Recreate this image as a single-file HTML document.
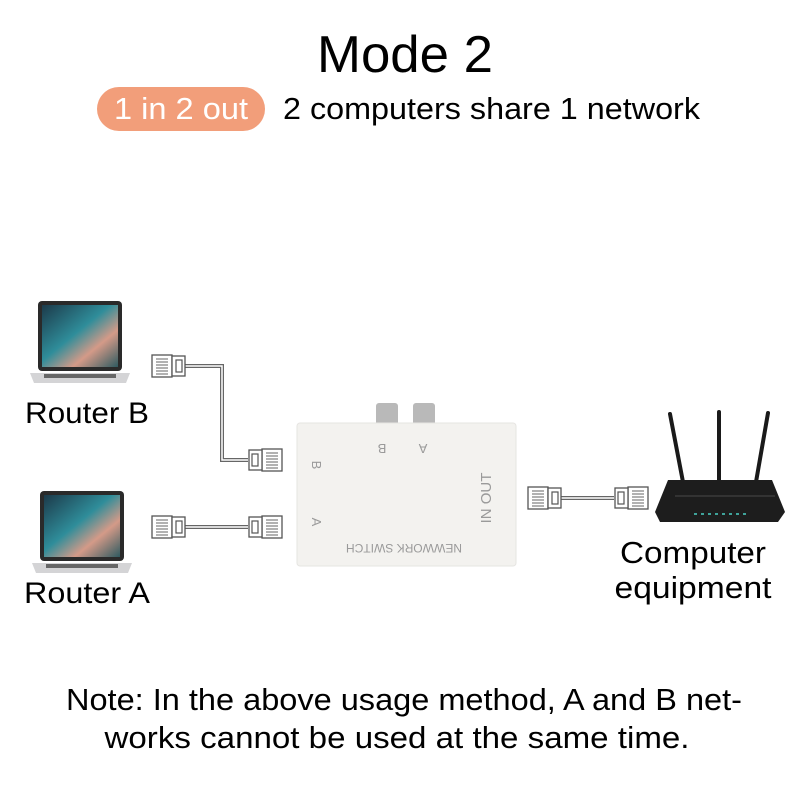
<!DOCTYPE html>
<html><head><meta charset="utf-8"><style>body{margin:0;background:#fff}svg{display:block}</style></head>
<body>
<svg width="800" height="800" viewBox="0 0 800 800" xmlns="http://www.w3.org/2000/svg" font-family="Liberation Sans, sans-serif">
<defs>
<linearGradient id="scr" x1="0" y1="0" x2="1" y2="1">
<stop offset="0" stop-color="#1c3a4a"/><stop offset="0.45" stop-color="#2f8d9a"/><stop offset="0.7" stop-color="#d49a88"/><stop offset="1" stop-color="#2f5a60"/></linearGradient>
<g id="plugL">
<rect x="0" y="0" width="20" height="22" fill="#fff" stroke="#555" stroke-width="1.3"/>
<g stroke="#666" stroke-width="1"><line x1="4" y1="4" x2="16" y2="4"/><line x1="4" y1="7" x2="16" y2="7"/><line x1="4" y1="10" x2="16" y2="10"/><line x1="4" y1="13" x2="16" y2="13"/><line x1="4" y1="16" x2="16" y2="16"/><line x1="4" y1="19" x2="16" y2="19"/></g>
<rect x="20" y="1" width="13" height="20" fill="#fff" stroke="#555" stroke-width="1.3"/>
<rect x="24" y="5" width="6" height="12" fill="#fff" stroke="#555" stroke-width="1.2"/>
</g>
<g id="laptop">
<rect x="8" y="0" width="84" height="70" rx="4" fill="#2a2a2a"/>
<rect x="12" y="4" width="76" height="62" fill="url(#scr)"/>
<path d="M0 72 L100 72 L96 82 L4 82 Z" fill="#d4d4d6"/>
<rect x="14" y="73" width="72" height="4" fill="#666"/>
</g>
</defs>

<text x="405" y="72" font-size="52" text-anchor="middle" textLength="176" lengthAdjust="spacingAndGlyphs" fill="#000">Mode 2</text>
<rect x="97" y="87" width="168" height="44" rx="22" fill="#f29e7a"/>
<text x="181" y="119" font-size="31" text-anchor="middle" fill="#fff" textLength="134" lengthAdjust="spacingAndGlyphs">1 in 2 out</text>
<text x="283" y="119" font-size="31" fill="#000" textLength="417" lengthAdjust="spacingAndGlyphs">2 computers share 1 network</text>

<use href="#laptop" x="30" y="301"/>
<use href="#laptop" x="32" y="491"/>
<text x="25" y="423" font-size="30" textLength="124" lengthAdjust="spacingAndGlyphs">Router B</text>
<text x="24" y="603" font-size="30" textLength="126" lengthAdjust="spacingAndGlyphs">Router A</text>

<g fill="none" stroke="#666" stroke-width="4"><path d="M185 366 H222 V460 H248"/><path d="M185 527 H248"/><path d="M560 498 H614"/></g>
<g fill="none" stroke="#fff" stroke-width="1.5"><path d="M185 366 H222 V460 H248"/><path d="M185 527 H248"/><path d="M560 498 H614"/></g>

<use href="#plugL" x="152" y="355"/>
<use href="#plugL" x="152" y="516"/>
<use href="#plugL" transform="translate(282,449) scale(-1,1)"/>
<use href="#plugL" transform="translate(282,516) scale(-1,1)"/>
<use href="#plugL" x="528" y="487"/>
<use href="#plugL" transform="translate(648,487) scale(-1,1)"/>

<rect x="376" y="403" width="22" height="24" rx="3" fill="#b9b9b9"/>
<rect x="413" y="403" width="22" height="24" rx="3" fill="#b9b9b9"/>
<rect x="297" y="423" width="219" height="143" rx="3" fill="#f3f2ef" stroke="#e6e5e2"/>
<g fill="#9a9a9a" font-size="13">
<text transform="translate(382,444) rotate(180)" text-anchor="middle">B</text>
<text transform="translate(423,444) rotate(180)" text-anchor="middle">A</text>
<text transform="translate(312,465) rotate(90)" text-anchor="middle">B</text>
<text transform="translate(312,522) rotate(90)" text-anchor="middle">A</text>
<text transform="translate(491,498) rotate(-90)" text-anchor="middle" font-size="15">IN OUT</text>
<text transform="translate(404,544) rotate(180)" text-anchor="middle" font-size="12">NEWWORK SWITCH</text>
</g>

<g stroke="#1a1a1a" stroke-linecap="round">
<line x1="670" y1="414" x2="683" y2="482" stroke-width="4"/>
<line x1="719" y1="412" x2="719" y2="480" stroke-width="4"/>
<line x1="768" y1="413" x2="756" y2="482" stroke-width="4"/>
</g>
<path d="M668 480 L772 480 L785 512 L778 522 L660 522 L655 512 Z" fill="#1d1d1d"/>
<rect x="675" y="495" width="100" height="2" fill="#333"/>
<g fill="#3fa39a"><rect x="694" y="513" width="3" height="2"/><rect x="701" y="513" width="3" height="2"/><rect x="708" y="513" width="3" height="2"/><rect x="715" y="513" width="3" height="2"/><rect x="722" y="513" width="3" height="2"/><rect x="729" y="513" width="3" height="2"/><rect x="736" y="513" width="3" height="2"/><rect x="743" y="513" width="3" height="2"/></g>
<text x="693" y="563" font-size="31" text-anchor="middle" textLength="146" lengthAdjust="spacingAndGlyphs">Computer</text>
<text x="693" y="598" font-size="31" text-anchor="middle" textLength="157" lengthAdjust="spacingAndGlyphs">equipment</text>

<text x="404" y="710" font-size="31" text-anchor="middle" textLength="676" lengthAdjust="spacingAndGlyphs">Note: In the above usage method, A and B net-</text>
<text x="397" y="748" font-size="31" text-anchor="middle" textLength="585" lengthAdjust="spacingAndGlyphs">works cannot be used at the same time.</text>
</svg>
</body></html>
